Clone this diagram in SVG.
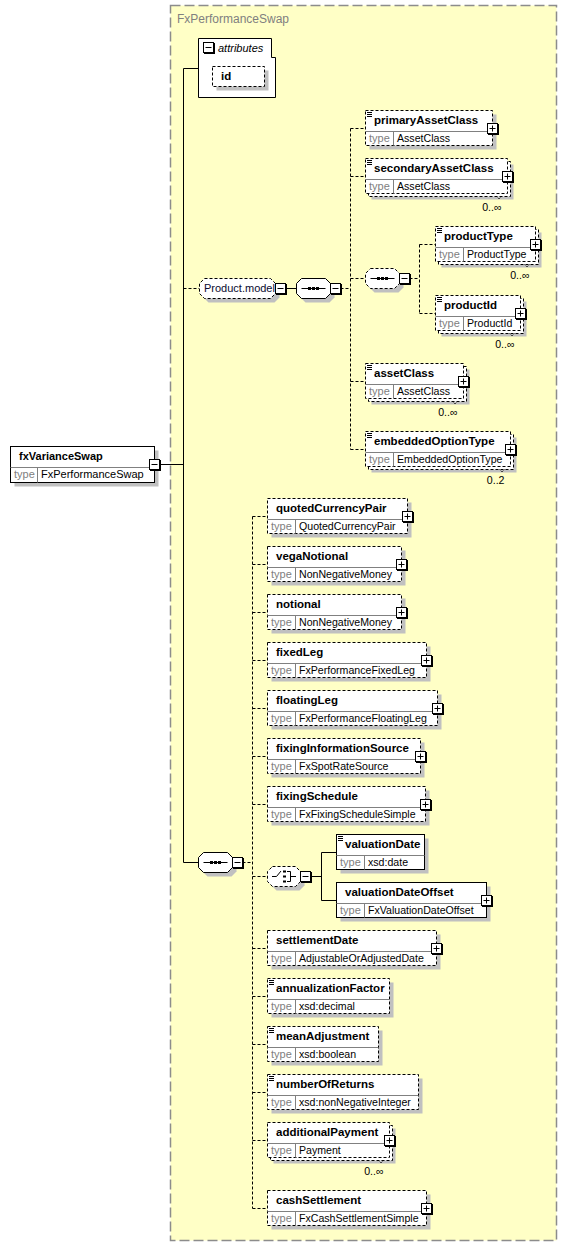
<svg xmlns="http://www.w3.org/2000/svg" width="567" height="1247" viewBox="0 0 567 1247">
<defs>
<style>
.cont{fill:#FFFFC6;stroke:#8C8C8C;stroke-width:1.5;stroke-dasharray:10,4}
.shd{fill:#C0C0C0}
.bx{fill:#fff;stroke:#000}
.bxd{fill:#fff;stroke:#000;stroke-dasharray:3,2}
.dv{stroke:#808080;fill:none}
.ln{stroke:#000;fill:none}
.lnd{stroke:#000;fill:none;stroke-dasharray:3,2}
.nt{stroke:#000;fill:none;stroke-dasharray:1,1}
text{font-family:"Liberation Sans",Arial,sans-serif;font-size:10.6px;fill:#000}
.nm{font-weight:bold;font-size:11.5px}
.ty{fill:#808080;font-size:11px}
.ttl{font-size:12px;fill:#808080}
.it{font-style:italic;font-size:11px}
.grp{fill:#0A0A30;font-size:11px}
</style>
<g id="mn"><rect x="0.5" y="0.5" width="11" height="11" fill="#000"/><rect width="10" height="10" fill="#fff" stroke="#000"/><path d="M2 5H8" stroke="#000"/></g>
<g id="pl"><rect x="0.5" y="0.5" width="11" height="11" fill="#000"/><rect width="10" height="10" fill="#fff" stroke="#000"/><path d="M2 5H8M5 2V8" stroke="#000"/></g>
<path id="doc" d="M1.5 2H6.5M1.5 4H6.5M1.5 6H6.5" stroke="#000"/>
</defs>

<rect class="cont" x="170.5" y="5.5" width="386" height="1235"/>
<text class="ttl" x="177" y="23">FxPerformanceSwap</text>

<g id="connectors">
<path class="ln" d="M159.5 464.5H183.5"/>
<path class="ln" d="M198.5 68.5H183.5V862.5H198.5"/>
<path class="lnd" d="M183.5 288.5H199.5"/>
<path class="ln" d="M285.5 288.5H296.5"/>
<path class="lnd" d="M340.5 288.5H350.5M350.5 128.5V449.5M350.5 128.5H365.5M350.5 176.5H365.5M350.5 278.5H365.5M350.5 381.5H365.5M350.5 449.5H365.5"/>
<path class="lnd" d="M409.5 278.5H419.5M419.5 244.5V313.5M419.5 244.5H435.5M419.5 313.5H435.5"/>
<path class="lnd" d="M242.5 862.5H252.5M252.5 516.5V1208.5M252.5 516.5H267.5M252.5 564.5H267.5M252.5 612.5H267.5M252.5 660.5H267.5M252.5 708.5H267.5M252.5 756.5H267.5M252.5 804.5H267.5M252.5 876.5H267.5M252.5 948.5H267.5M252.5 996.5H267.5M252.5 1044.5H267.5M252.5 1092.5H267.5M252.5 1140.5H267.5M252.5 1208.5H267.5"/>
<path class="ln" d="M310.5 876.5H321.5M336.5 852.5H321.5V900.5H336.5"/>
</g>

<g id="fxVarianceSwap">
<rect class="shd" x="14.5" y="450.5" width="144" height="36"/>
<rect class="bx" x="10.5" y="446.5" width="144" height="36"/>
<path class="dv" d="M10.5 467.5H154.5M37.5 467.5V482.5"/>
<text class="nm" x="19" y="460" style="font-size:11px">fxVarianceSwap</text>
<text class="ty" x="14" y="478">type</text>
<text x="41" y="478" style="font-size:11px">FxPerformanceSwap</text>
<use href="#mn" x="149.5" y="459.5"/>
</g>

<g id="attributes">
<path class="bx" d="M198.5 38.5H271.5V57.5H275.5V97.5H198.5Z"/>
<use href="#mn" x="203.5" y="42.5"/>
<text class="it" x="218" y="52">attributes</text>
</g>
<g id="id">
<rect class="shd" x="216.5" y="70.5" width="52" height="20"/>
<rect class="bxd" x="212.5" y="66.5" width="52" height="20"/>
<text class="nm" x="221" y="80">id</text>
</g>

<g id="Product_model">
<path class="shd" transform="translate(4,4)" d="M204.5 278.5H270.5L275.5 283.5V293.5L270.5 298.5H204.5L199.5 293.5V283.5Z"/>
<path class="bxd" d="M204.5 278.5H270.5L275.5 283.5V293.5L270.5 298.5H204.5L199.5 293.5V283.5Z"/>
<text class="grp" x="204" y="292">Product.model</text>
<use href="#mn" x="275.5" y="283.5"/>
</g>

<g id="sequence1">
<path class="shd" transform="translate(4,4)" d="M301.5 278.5H325.5L330.5 283.5V293.5L325.5 298.5H301.5L296.5 293.5V283.5Z"/>
<path class="bx" d="M301.5 278.5H325.5L330.5 283.5V293.5L325.5 298.5H301.5L296.5 293.5V283.5Z"/>
<path class="ln" d="M301.5 288.5H325.5"/>
<rect x="308" y="287" width="3" height="3"/><rect x="312" y="287" width="3" height="3"/><rect x="316" y="287" width="3" height="3"/>
<use href="#mn" x="330.5" y="283.5"/>
</g>

<g id="sequence2">
<path class="shd" transform="translate(4,4)" d="M370.5 268.5H394.5L399.5 273.5V283.5L394.5 288.5H370.5L365.5 283.5V273.5Z"/>
<path class="bxd" d="M370.5 268.5H394.5L399.5 273.5V283.5L394.5 288.5H370.5L365.5 283.5V273.5Z"/>
<path class="ln" d="M370.5 278.5H394.5"/>
<rect x="377" y="277" width="3" height="3"/><rect x="381" y="277" width="3" height="3"/><rect x="385" y="277" width="3" height="3"/>
<use href="#mn" x="399.5" y="273.5"/>
</g>

<g id="sequence3">
<path class="shd" transform="translate(4,4)" d="M203.5 852.5H227.5L232.5 857.5V867.5L227.5 872.5H203.5L198.5 867.5V857.5Z"/>
<path class="bx" d="M203.5 852.5H227.5L232.5 857.5V867.5L227.5 872.5H203.5L198.5 867.5V857.5Z"/>
<path class="ln" d="M203.5 862.5H227.5"/>
<rect x="210" y="861" width="3" height="3"/><rect x="214" y="861" width="3" height="3"/><rect x="218" y="861" width="3" height="3"/>
<use href="#mn" x="232.5" y="857.5"/>
</g>

<g id="choice">
<path class="shd" transform="translate(4,4)" d="M272.5 866.5H295.5L300.5 871.5V881.5L295.5 886.5H272.5L267.5 881.5V871.5Z"/>
<path class="bxd" d="M272.5 866.5H295.5L300.5 871.5V881.5L295.5 886.5H272.5L267.5 881.5V871.5Z"/>
<path class="ln" d="M272 876.5H276.5L281 871M287 871.5H290.5V881.5H287M290.5 876.5H296"/>
<rect x="283" y="870.5" width="3" height="2"/><rect x="283" y="875.5" width="3" height="2"/><rect x="283" y="880.5" width="3" height="2"/>
<use href="#mn" x="300.5" y="871.5"/>
</g>

<g id="primaryAssetClass">
<rect class="shd" x="369.5" y="114.5" width="127" height="35"/>
<rect class="bxd" x="365.5" y="110.5" width="127" height="35"/>
<path class="dv" d="M365.5 131.5H492.5M393.5 131.5V145.5"/>
<use href="#doc" x="365.5" y="110.5"/>
<text class="nm" x="374" y="124">primaryAssetClass</text>
<text class="ty" x="369" y="142">type</text>
<text x="397" y="142">AssetClass</text>
<use href="#pl" x="487.5" y="123.5"/>
</g>

<g id="secondaryAssetClass">
<rect class="shd" x="371.5" y="164.5" width="142" height="35"/>
<rect class="bxd" x="368.5" y="161.5" width="142" height="35"/>
<rect class="bxd" x="365.5" y="158.5" width="142" height="35"/>
<path class="dv" d="M365.5 179.5H507.5M393.5 179.5V193.5"/>
<use href="#doc" x="365.5" y="158.5"/>
<text class="nm" x="374" y="172">secondaryAssetClass</text>
<text class="ty" x="369" y="190">type</text>
<text x="397" y="190">AssetClass</text>
<use href="#pl" x="502.5" y="171.5"/>
<path class="nt" d="M496.5 196.5L499 199L501.5 196.5"/>
<text x="501.5" y="211" text-anchor="end">0..∞</text>
</g>

<g id="productType">
<rect class="shd" x="441.5" y="232.5" width="100" height="35"/>
<rect class="bxd" x="438.5" y="229.5" width="100" height="35"/>
<rect class="bxd" x="435.5" y="226.5" width="100" height="35"/>
<path class="dv" d="M435.5 247.5H535.5M463.5 247.5V261.5"/>
<use href="#doc" x="435.5" y="226.5"/>
<text class="nm" x="444" y="240">productType</text>
<text class="ty" x="439" y="258">type</text>
<text x="467" y="258">ProductType</text>
<use href="#pl" x="530.5" y="239.5"/>
<path class="nt" d="M524.5 264.5L527 267L529.5 264.5"/>
<text x="529.5" y="279" text-anchor="end">0..∞</text>
</g>

<g id="productId">
<rect class="shd" x="441.5" y="301.5" width="85" height="35"/>
<rect class="bxd" x="438.5" y="298.5" width="85" height="35"/>
<rect class="bxd" x="435.5" y="295.5" width="85" height="35"/>
<path class="dv" d="M435.5 316.5H520.5M463.5 316.5V330.5"/>
<use href="#doc" x="435.5" y="295.5"/>
<text class="nm" x="444" y="309">productId</text>
<text class="ty" x="439" y="327">type</text>
<text x="467" y="327">ProductId</text>
<use href="#pl" x="515.5" y="308.5"/>
<path class="nt" d="M509.5 333.5L512 336L514.5 333.5"/>
<text x="514.5" y="348" text-anchor="end">0..∞</text>
</g>

<g id="assetClass">
<rect class="shd" x="371.5" y="369.5" width="98" height="35"/>
<rect class="bxd" x="368.5" y="366.5" width="98" height="35"/>
<rect class="bxd" x="365.5" y="363.5" width="98" height="35"/>
<path class="dv" d="M365.5 384.5H463.5M393.5 384.5V398.5"/>
<use href="#doc" x="365.5" y="363.5"/>
<text class="nm" x="374" y="377">assetClass</text>
<text class="ty" x="369" y="395">type</text>
<text x="397" y="395">AssetClass</text>
<use href="#pl" x="458.5" y="376.5"/>
<path class="nt" d="M452.5 401.5L455 404L457.5 401.5"/>
<text x="457.5" y="416" text-anchor="end">0..∞</text>
</g>

<g id="embeddedOptionType">
<rect class="shd" x="371.5" y="437.5" width="145" height="35"/>
<rect class="bxd" x="368.5" y="434.5" width="145" height="35"/>
<rect class="bxd" x="365.5" y="431.5" width="145" height="35"/>
<path class="dv" d="M365.5 452.5H510.5M393.5 452.5V466.5"/>
<use href="#doc" x="365.5" y="431.5"/>
<text class="nm" x="374" y="445">embeddedOptionType</text>
<text class="ty" x="369" y="463">type</text>
<text x="397" y="463">EmbeddedOptionType</text>
<use href="#pl" x="505.5" y="444.5"/>
<path class="nt" d="M499.5 469.5L502 472L504.5 469.5"/>
<text x="504.5" y="484" text-anchor="end">0..2</text>
</g>

<g id="quotedCurrencyPair">
<rect class="shd" x="271.5" y="502.5" width="140" height="35"/>
<rect class="bxd" x="267.5" y="498.5" width="140" height="35"/>
<path class="dv" d="M267.5 519.5H407.5M295.5 519.5V533.5"/>
<text class="nm" x="276" y="512">quotedCurrencyPair</text>
<text class="ty" x="271" y="530">type</text>
<text x="299" y="530">QuotedCurrencyPair</text>
<use href="#pl" x="402.5" y="511.5"/>
</g>

<g id="vegaNotional">
<rect class="shd" x="271.5" y="550.5" width="134" height="35"/>
<rect class="bxd" x="267.5" y="546.5" width="134" height="35"/>
<path class="dv" d="M267.5 567.5H401.5M295.5 567.5V581.5"/>
<text class="nm" x="276" y="560">vegaNotional</text>
<text class="ty" x="271" y="578">type</text>
<text x="299" y="578">NonNegativeMoney</text>
<use href="#pl" x="396.5" y="559.5"/>
</g>

<g id="notional">
<rect class="shd" x="271.5" y="598.5" width="134" height="35"/>
<rect class="bxd" x="267.5" y="594.5" width="134" height="35"/>
<path class="dv" d="M267.5 615.5H401.5M295.5 615.5V629.5"/>
<text class="nm" x="276" y="608">notional</text>
<text class="ty" x="271" y="626">type</text>
<text x="299" y="626">NonNegativeMoney</text>
<use href="#pl" x="396.5" y="607.5"/>
</g>

<g id="fixedLeg">
<rect class="shd" x="271.5" y="646.5" width="159" height="35"/>
<rect class="bxd" x="267.5" y="642.5" width="159" height="35"/>
<path class="dv" d="M267.5 663.5H426.5M295.5 663.5V677.5"/>
<text class="nm" x="276" y="656">fixedLeg</text>
<text class="ty" x="271" y="674">type</text>
<text x="299" y="674">FxPerformanceFixedLeg</text>
<use href="#pl" x="421.5" y="655.5"/>
</g>

<g id="floatingLeg">
<rect class="shd" x="271.5" y="694.5" width="170" height="35"/>
<rect class="bxd" x="267.5" y="690.5" width="170" height="35"/>
<path class="dv" d="M267.5 711.5H437.5M295.5 711.5V725.5"/>
<text class="nm" x="276" y="704">floatingLeg</text>
<text class="ty" x="271" y="722">type</text>
<text x="299" y="722">FxPerformanceFloatingLeg</text>
<use href="#pl" x="432.5" y="703.5"/>
</g>

<g id="fixingInformationSource">
<rect class="shd" x="271.5" y="742.5" width="153" height="35"/>
<rect class="bxd" x="267.5" y="738.5" width="153" height="35"/>
<path class="dv" d="M267.5 759.5H420.5M295.5 759.5V773.5"/>
<text class="nm" x="276" y="752">fixingInformationSource</text>
<text class="ty" x="271" y="770">type</text>
<text x="299" y="770">FxSpotRateSource</text>
<use href="#pl" x="415.5" y="751.5"/>
</g>

<g id="fixingSchedule">
<rect class="shd" x="271.5" y="790.5" width="158" height="35"/>
<rect class="bxd" x="267.5" y="786.5" width="158" height="35"/>
<path class="dv" d="M267.5 807.5H425.5M295.5 807.5V821.5"/>
<text class="nm" x="276" y="800">fixingSchedule</text>
<text class="ty" x="271" y="818">type</text>
<text x="299" y="818">FxFixingScheduleSimple</text>
<use href="#pl" x="420.5" y="799.5"/>
</g>

<g id="valuationDate">
<rect class="shd" x="340.5" y="838.5" width="88" height="35"/>
<rect class="bx" x="336.5" y="834.5" width="88" height="35"/>
<path class="dv" d="M336.5 855.5H424.5M364.5 855.5V869.5"/>
<use href="#doc" x="336.5" y="834.5"/>
<text class="nm" x="345" y="848">valuationDate</text>
<text class="ty" x="340" y="866">type</text>
<text x="368" y="866">xsd:date</text>
</g>

<g id="valuationDateOffset">
<rect class="shd" x="340.5" y="886.5" width="150" height="35"/>
<rect class="bx" x="336.5" y="882.5" width="150" height="35"/>
<path class="dv" d="M336.5 903.5H486.5M364.5 903.5V917.5"/>
<text class="nm" x="345" y="896">valuationDateOffset</text>
<text class="ty" x="340" y="914">type</text>
<text x="368" y="914">FxValuationDateOffset</text>
<use href="#pl" x="481.5" y="895.5"/>
</g>

<g id="settlementDate">
<rect class="shd" x="271.5" y="934.5" width="169" height="35"/>
<rect class="bxd" x="267.5" y="930.5" width="169" height="35"/>
<path class="dv" d="M267.5 951.5H436.5M295.5 951.5V965.5"/>
<text class="nm" x="276" y="944">settlementDate</text>
<text class="ty" x="271" y="962">type</text>
<text x="299" y="962">AdjustableOrAdjustedDate</text>
<use href="#pl" x="431.5" y="943.5"/>
</g>

<g id="annualizationFactor">
<rect class="shd" x="271.5" y="982.5" width="122" height="35"/>
<rect class="bxd" x="267.5" y="978.5" width="122" height="35"/>
<path class="dv" d="M267.5 999.5H389.5M295.5 999.5V1013.5"/>
<use href="#doc" x="267.5" y="978.5"/>
<text class="nm" x="276" y="992">annualizationFactor</text>
<text class="ty" x="271" y="1010">type</text>
<text x="299" y="1010">xsd:decimal</text>
</g>

<g id="meanAdjustment">
<rect class="shd" x="271.5" y="1030.5" width="111" height="35"/>
<rect class="bxd" x="267.5" y="1026.5" width="111" height="35"/>
<path class="dv" d="M267.5 1047.5H378.5M295.5 1047.5V1061.5"/>
<use href="#doc" x="267.5" y="1026.5"/>
<text class="nm" x="276" y="1040">meanAdjustment</text>
<text class="ty" x="271" y="1058">type</text>
<text x="299" y="1058">xsd:boolean</text>
</g>

<g id="numberOfReturns">
<rect class="shd" x="271.5" y="1078.5" width="151" height="35"/>
<rect class="bxd" x="267.5" y="1074.5" width="151" height="35"/>
<path class="dv" d="M267.5 1095.5H418.5M295.5 1095.5V1109.5"/>
<use href="#doc" x="267.5" y="1074.5"/>
<text class="nm" x="276" y="1088">numberOfReturns</text>
<text class="ty" x="271" y="1106">type</text>
<text x="299" y="1106">xsd:nonNegativeInteger</text>
</g>

<g id="additionalPayment">
<rect class="shd" x="273.5" y="1128.5" width="122" height="35"/>
<rect class="bxd" x="270.5" y="1125.5" width="122" height="35"/>
<rect class="bxd" x="267.5" y="1122.5" width="122" height="35"/>
<path class="dv" d="M267.5 1143.5H389.5M295.5 1143.5V1157.5"/>
<text class="nm" x="276" y="1136">additionalPayment</text>
<text class="ty" x="271" y="1154">type</text>
<text x="299" y="1154">Payment</text>
<use href="#pl" x="384.5" y="1135.5"/>
<path class="nt" d="M378.5 1160.5L381 1163L383.5 1160.5"/>
<text x="383.5" y="1175" text-anchor="end">0..∞</text>
</g>

<g id="cashSettlement">
<rect class="shd" x="271.5" y="1194.5" width="159" height="35"/>
<rect class="bxd" x="267.5" y="1190.5" width="159" height="35"/>
<path class="dv" d="M267.5 1211.5H426.5M295.5 1211.5V1225.5"/>
<text class="nm" x="276" y="1204">cashSettlement</text>
<text class="ty" x="271" y="1222">type</text>
<text x="299" y="1222">FxCashSettlementSimple</text>
<use href="#pl" x="421.5" y="1203.5"/>
</g>
</svg>
